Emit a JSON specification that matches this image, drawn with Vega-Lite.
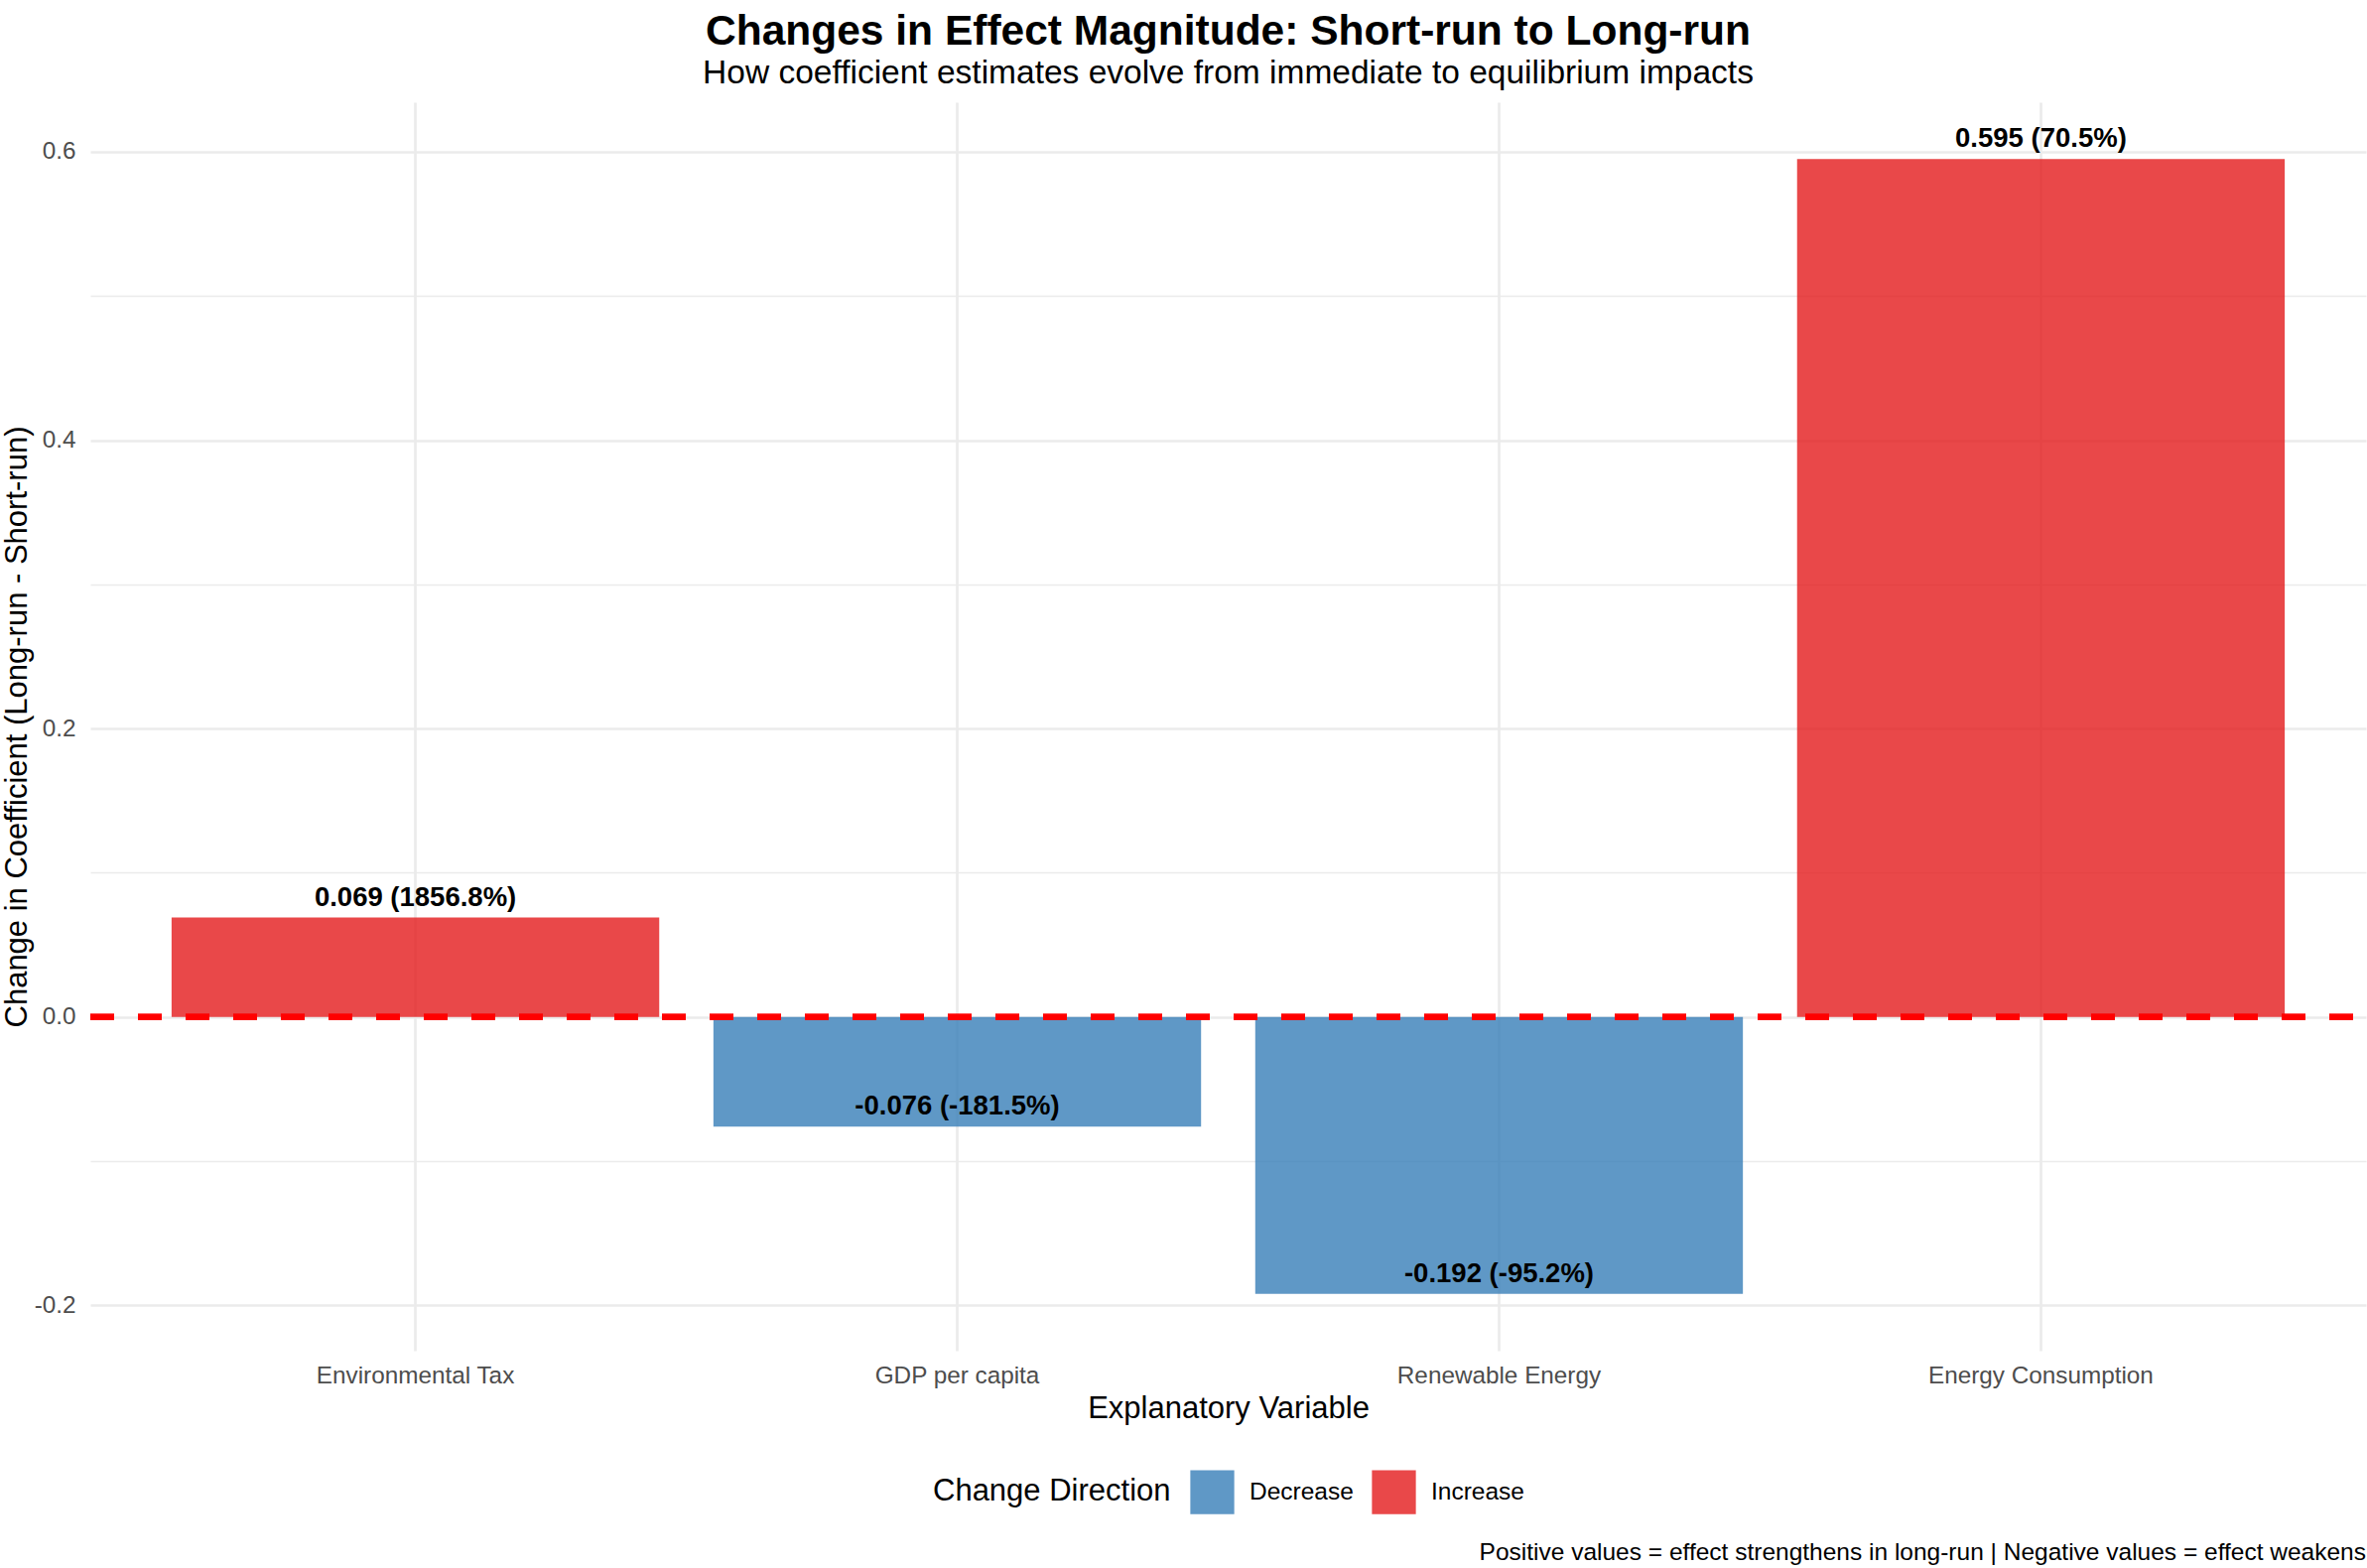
{
  "$schema": "https://vega.github.io/schema/vega-lite/v6.json",
  "width": 2293,
  "height": 1258,
  "autosize": {"type": "none"},
  "padding": {"left": 91, "top": 103, "right": 1, "bottom": 219},
  "background": "white",
  "config": {
    "font": "Liberation Sans",
    "view": {"stroke": null},
    "axis": {
      "domain": false,
      "ticks": false,
      "tickSize": 0,
      "gridColor": "#EBEBEB",
      "gridWidth": 2.7,
      "labelColor": "#4D4D4D",
      "labelFont": "Liberation Sans",
      "labelFontSize": 24.3,
      "labelLimit": 0,
      "titleFont": "Liberation Sans",
      "titleFontSize": 31,
      "titleFontWeight": "normal",
      "titleColor": "#000000",
      "titleLimit": 0
    }
  },
  "title": {
    "text": "Changes in Effect Magnitude: Short-run to Long-run",
    "subtitle": "How coefficient estimates evolve from immediate to equilibrium impacts",
    "anchor": "middle",
    "font": "Liberation Sans",
    "fontSize": 42.5,
    "fontWeight": "bold",
    "color": "#000000",
    "subtitleFont": "Liberation Sans",
    "subtitleFontSize": 33.5,
    "subtitleColor": "#000000",
    "subtitlePadding": 4,
    "offset": 13,
    "limit": 0
  },
  "data": {
    "values": [
      {"variable": "Environmental Tax", "change": 0.069, "label": "0.069 (1856.8%)", "direction": "Increase"},
      {"variable": "GDP per capita", "change": -0.076, "label": "-0.076 (-181.5%)", "direction": "Decrease"},
      {"variable": "Renewable Energy", "change": -0.192, "label": "-0.192 (-95.2%)", "direction": "Decrease"},
      {"variable": "Energy Consumption", "change": 0.595, "label": "0.595 (70.5%)", "direction": "Increase"}
    ]
  },
  "layer": [
    {
      "mark": {"type": "bar", "opacity": 0.8},
      "encoding": {
        "x": {
          "field": "variable",
          "type": "nominal",
          "sort": ["Environmental Tax", "GDP per capita", "Renewable Energy", "Energy Consumption"],
          "scale": {"paddingInner": 0.1, "paddingOuter": 0.15},
          "axis": {"title": "Explanatory Variable", "labelAngle": 0, "labelPadding": 13, "titlePadding": 6, "grid": true, "gridWidth": 2.7}
        },
        "y": {
          "field": "change",
          "type": "quantitative",
          "scale": {"domain": [-0.23135, 0.63435], "nice": false, "zero": false},
          "axis": {
            "title": "Change in Coefficient (Long-run - Short-run)",
            "values": [-0.2, -0.1, 0, 0.1, 0.2, 0.3, 0.4, 0.5, 0.6],
            "labelExpr": "abs(round(datum.value*10)) % 2 == 0 ? replace(format(datum.value, '.1f'), '\u2212', '-') : ''",
            "labelPadding": 15,
            "titlePadding": 1,
            "gridWidth": {"condition": {"test": "abs(round(datum.value*10)) % 2 == 1", "value": 1.4}, "value": 2.7}
          }
        },
        "color": {
          "field": "direction",
          "type": "nominal",
          "scale": {"domain": ["Decrease", "Increase"], "range": ["#377EB8", "#E41A1C"]},
          "legend": {
            "title": "Change Direction",
            "orient": "none",
            "legendX": 849,
            "legendY": 1378,
            "direction": "horizontal",
            "titleOrient": "left",
            "titleFont": "Liberation Sans",
            "titleFontSize": 31,
            "titleFontWeight": "normal",
            "titleColor": "#000000",
            "titleLimit": 0,
            "titlePadding": 19,
            "titleBaseline": "middle",
            "labelFont": "Liberation Sans",
            "labelFontSize": 24.5,
            "labelColor": "#000000",
            "labelLimit": 0,
            "labelOffset": 15,
            "columnPadding": 18,
            "symbolType": "square",
            "symbolSize": 1960,
            "symbolOpacity": 0.8,
            "symbolStrokeWidth": 0,
            "padding": 0
          }
        }
      }
    },
    {
      "mark": {"type": "rule", "color": "#FF0000", "strokeWidth": 6, "strokeDash": [24, 24], "strokeDashOffset": 35},
      "encoding": {"y": {"datum": 0}}
    },
    {
      "mark": {"type": "text", "font": "Liberation Sans", "fontSize": 27.5, "fontWeight": "bold", "color": "#000000", "baseline": "middle", "align": "center", "dy": -20},
      "encoding": {
        "x": {"field": "variable", "type": "nominal", "sort": ["Environmental Tax", "GDP per capita", "Renewable Energy", "Energy Consumption"]},
        "y": {"field": "change", "type": "quantitative"},
        "text": {"field": "label"}
      }
    },
    {
      "data": {"values": [{"caption": "Positive values = effect strengthens in long-run | Negative values = effect weakens"}]},
      "mark": {"type": "text", "font": "Liberation Sans", "fontSize": 24.5, "color": "#000000", "align": "right", "baseline": "middle", "x": {"expr": "width"}, "y": {"expr": "height + 204"}},
      "encoding": {"text": {"field": "caption"}}
    }
  ]
}
